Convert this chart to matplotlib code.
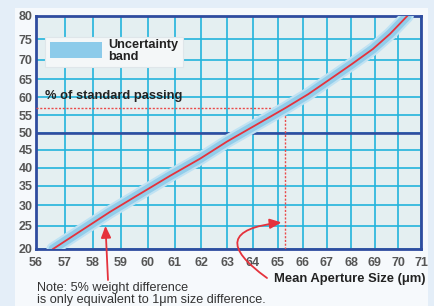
import math
import numpy as np
import matplotlib
matplotlib.use("Agg")
import matplotlib.pyplot as plt
from matplotlib.patches import Rectangle
from matplotlib.ticker import NullLocator, FixedLocator, FixedFormatter
from matplotlib.font_manager import FontProperties

# ---------------- data ----------------
x_ticks = list(range(56, 72))
y_ticks = [20, 25, 30, 35, 40, 45, 50, 55, 60, 65, 70, 75, 80]
curve_size = [56.59, 58.61, 59.71, 60.82, 61.96, 63.0, 64.09, 65.3, 66.23, 67.13, 68.05, 68.93, 69.66, 70.4]
curve_pass = [20.0, 28.3, 32.9, 37.7, 42.5, 47.4, 52.0, 57.0, 60.9, 65.0, 69.0, 72.7, 76.2, 80.0]
ref_size = 65.3
ref_pass = 57.0
arrow_size = 58.45
arrow_pass = 25.0
legend_label = "Uncertainty\nband"
ref_label = "% of standard passing"
xlabel = "Mean Aperture Size (\u03bcm)"
note = "Note: 5% weight difference\nis only equivalent to 1\u03bcm size difference."

# ---------------- probability scale ----------------
def _ppf(p):
    p = np.clip(np.asarray(p, dtype=float), 1e-9, 1 - 1e-9)
    a = [-3.969683028665376e+01, 2.209460984245205e+02, -2.759285104469687e+02,
         1.383577518672690e+02, -3.066479806614716e+01, 2.506628277459239e+00]
    b = [-5.447609879822406e+01, 1.615858368580409e+02, -1.556989798598866e+02,
         6.680131188771972e+01, -1.328068155288572e+01]
    c = [-7.784894002430293e-03, -3.223964580411365e-01, -2.400758277161838e+00,
         -2.549732539343734e+00, 4.374664141464968e+00, 2.938163982698783e+00]
    d = [7.784695709041462e-03, 3.224671290700398e-01, 2.445134137142996e+00,
         3.754408661907416e+00]
    plow = 0.02425
    out = np.empty_like(p)
    lo = p < plow
    hi = p > 1 - plow
    mid = ~(lo | hi)
    q = np.sqrt(-2 * np.log(p[lo]))
    out[lo] = (((((c[0]*q+c[1])*q+c[2])*q+c[3])*q+c[4])*q+c[5]) / ((((d[0]*q+d[1])*q+d[2])*q+d[3])*q+1)
    q = np.sqrt(-2 * np.log(1 - p[hi]))
    out[hi] = -(((((c[0]*q+c[1])*q+c[2])*q+c[3])*q+c[4])*q+c[5]) / ((((d[0]*q+d[1])*q+d[2])*q+d[3])*q+1)
    q = p[mid] - 0.5
    r = q * q
    out[mid] = (((((a[0]*r+a[1])*r+a[2])*r+a[3])*r+a[4])*r+a[5])*q / (((((b[0]*r+b[1])*r+b[2])*r+b[3])*r+b[4])*r+1)
    return out

_erf = np.vectorize(math.erf, otypes=[float])

def fwd(y):
    return _ppf(np.asarray(y, dtype=float) / 100.0)

def inv(z):
    z = np.asarray(z, dtype=float)
    return 100.0 * 0.5 * (1 + _erf(z / math.sqrt(2)))

# ---------------- figure ----------------
W, H = 435, 306
fig = plt.figure(figsize=(W / 100, H / 100), dpi=100)
fig.patch.set_facecolor("#e4eef8")
fig.patches.append(Rectangle((15 / W, 0), (428 - 15) / W, (H - 8) / H,
                             transform=fig.transFigure, facecolor="#f6f9fc",
                             edgecolor="none", zorder=-5))

ax = fig.add_axes([36 / W, 1 - 249 / H, (421 - 36) / W, (249 - 16) / H])
ax.set_zorder(2)
ax.set_facecolor("#e4eff1")
ax.set_xscale("log")
ax.set_yscale("function", functions=(fwd, inv))
ax.set_xlim(56, 71)
ax.set_ylim(20, 80)

ax.xaxis.set_major_locator(FixedLocator(x_ticks))
ax.xaxis.set_major_formatter(FixedFormatter([str(v) for v in x_ticks]))
ax.xaxis.set_minor_locator(NullLocator())
ax.yaxis.set_major_locator(FixedLocator(y_ticks))
ax.yaxis.set_major_formatter(FixedFormatter([str(v) for v in y_ticks]))
ax.yaxis.set_minor_locator(NullLocator())

fp = FontProperties(family="Liberation Sans", weight="bold", size=9.0)
for lab in ax.get_xticklabels() + ax.get_yticklabels():
    lab.set_fontproperties(fp)
    lab.set_color("#555555")
ax.tick_params(axis="both", length=0)
ax.tick_params(axis="x", pad=5.5)
ax.tick_params(axis="y", pad=2.5)

ax.grid(True, color="#22b4dc", linewidth=1.2, zorder=1)
ax.set_axisbelow(True)
ax.axhline(50, color="#2f4c9f", linewidth=1.9, zorder=2)
for s in ax.spines.values():
    s.set_color("#2f4c9f")
    s.set_linewidth(2.0)

# reference dashed lines
ax.plot([56, ref_size], [ref_pass, ref_pass], color="#ea4a4a", linewidth=1.0,
        linestyle=(0, (1.5, 1.2)), zorder=3)
ax.plot([ref_size, ref_size], [20, ref_pass], color="#ea4a4a", linewidth=1.0,
        linestyle=(0, (1.5, 1.2)), zorder=3)

# uncertainty band + curve
ax.plot(curve_size, curve_pass, color="#bfe2f3", linewidth=9.5, solid_capstyle="round", zorder=4)
ax.plot(curve_size, curve_pass, color="#92cdea", linewidth=6.5, solid_capstyle="round", zorder=4)
ax.plot(curve_size, curve_pass, color="#e5323c", linewidth=1.3, zorder=5)

# legend box
lx0, ly0 = (45 - 36) / 385, (249 - 67) / 233
ax.add_patch(Rectangle((lx0, ly0), (183 - 45) / 385, (67 - 37) / 233, transform=ax.transAxes,
                       facecolor="#f4f7f8", edgecolor="#dfe6ea", linewidth=0.8, zorder=6))
ax.add_patch(Rectangle(((50 - 36) / 385, (249 - 58) / 233), (102 - 50) / 385, (58 - 42) / 233,
                       transform=ax.transAxes, facecolor="#8ccbea", edgecolor="none", zorder=7))
ax.text((108 - 36) / 385, (249 - 51) / 233, legend_label, transform=ax.transAxes,
        ha="left", va="center", fontsize=9.2, fontweight="bold", color="#222222",
        family="Liberation Sans", linespacing=0.9, zorder=8)

ax.text((45 - 36) / 385, (249 - 96) / 233, ref_label, transform=ax.transAxes,
        ha="left", va="center", fontsize=9.3, fontweight="bold", color="#222222",
        family="Liberation Sans", zorder=8)

# straight red arrow
ax.annotate("", xy=(arrow_size, arrow_pass), xycoords="data",
            xytext=(108, H - 280), textcoords="figure pixels",
            arrowprops=dict(arrowstyle="-|>,head_length=0.7,head_width=0.3",
                            color="#e5323c", linewidth=1.3, shrinkA=0, shrinkB=0),
            annotation_clip=False, zorder=9)

# curved red arrow
ax.annotate("", xy=(65.15, 25.8), xycoords="data",
            xytext=(267, H - 278), textcoords="figure pixels",
            arrowprops=dict(arrowstyle="-|>,head_length=0.7,head_width=0.3",
                            connectionstyle="arc3,rad=-1.3",
                            color="#e5323c", linewidth=1.3, shrinkA=0, shrinkB=0),
            annotation_clip=False, zorder=9)

fig.text(426 / W, 1 - 279 / H, xlabel, ha="right", va="center", fontsize=9.4,
         fontweight="bold", color="#222222", family="Liberation Sans")
fig.text(37 / W, 1 - 282 / H, note, ha="left", va="top", fontsize=9.1,
         color="#333333", family="Liberation Sans", linespacing=0.95)

fig.savefig("out.png", dpi=100, facecolor=fig.get_facecolor())
